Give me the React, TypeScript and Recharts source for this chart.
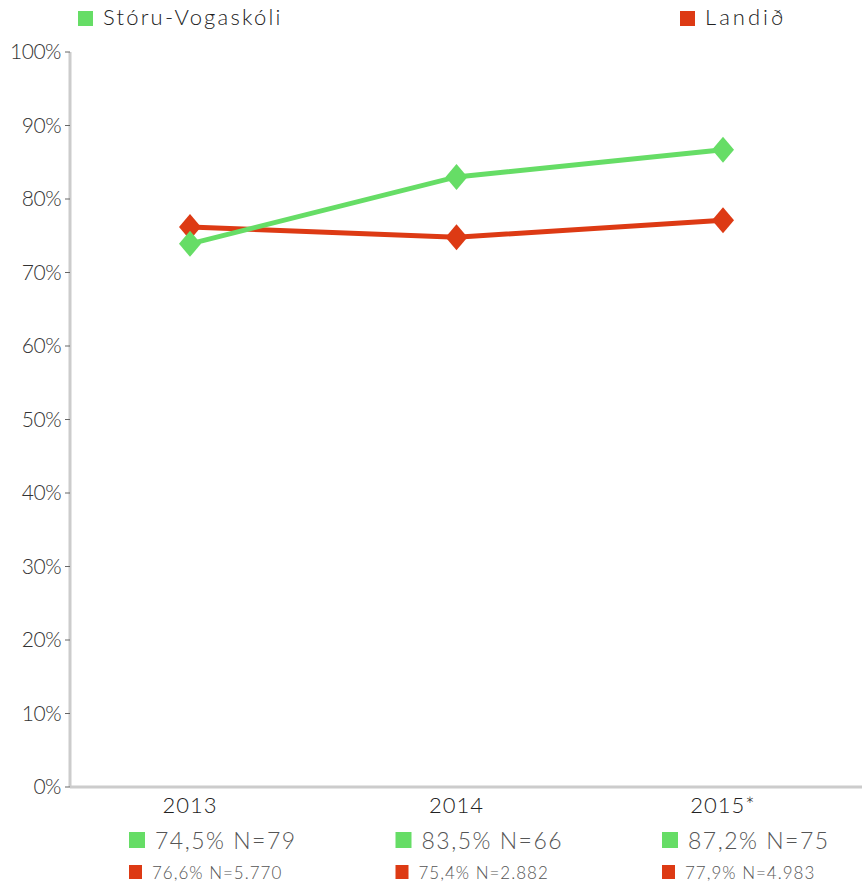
import { LineChart, Line, XAxis, YAxis } from 'recharts';

const years = ['2013', '2014', '2015*'];
// plotted values
const schoolValues = [73.9, 83.0, 86.7];
const countryValues = [76.2, 74.8, 77.1];
// labels printed under each year
const schoolLabels = ['74,5% N=79', '83,5% N=66', '87,2% N=75'];
const countryLabels = ['76,6% N=5.770', '75,4% N=2.882', '77,9% N=4.983'];
const yTicks = [0, 10, 20, 30, 40, 50, 60, 70, 80, 90, 100];

const GREEN = '#66DD66';
const RED = '#DD3A14';
const FONT = 'Lato, "Noto Sans", sans-serif';

const data = years.map((year, i) => ({
  year,
  school: schoolValues[i],
  country: countryValues[i],
}));

function Diamond(props: any) {
  const { cx, cy, fill } = props;
  if (cx == null || cy == null) return null;
  const w = 11;
  const h = 13;
  return (
    <polygon
      points={`${cx},${cy - h} ${cx + w},${cy} ${cx},${cy + h} ${cx - w},${cy}`}
      fill={fill}
    />
  );
}

function YearTick(props: any) {
  const { x, y, payload, index } = props;
  return (
    <g transform={`translate(${x},${y})`} fontFamily={FONT} fontWeight={300}>
      <text x={0} y={26} textAnchor="middle" fontSize={22} fill="#222" letterSpacing={1}>
        {payload.value}
      </text>
      <rect x={-61} y={45} width={16} height={16} fill={GREEN} />
      <text x={-35} y={62} fontSize={23} fill="#555" letterSpacing={1.5}>
        {schoolLabels[index]}
      </text>
      <rect x={-61} y={78} width={13} height={14} fill={RED} />
      <text x={-38} y={92} fontSize={17} fill="#555" letterSpacing={1}>
        {countryLabels[index]}
      </text>
    </g>
  );
}

function TopLegend() {
  return (
    <div style={{ position: 'absolute', left: 0, top: 0, width: 862, height: 40, fontFamily: FONT, fontWeight: 300 }}>
      <div style={{ position: 'absolute', left: 78, top: 11, width: 15, height: 15, background: GREEN }} />
      <div style={{ position: 'absolute', left: 103, top: 3, fontSize: 22, color: '#222', letterSpacing: 2.2 }}>
        Stóru-Vogaskóli
      </div>
      <div style={{ position: 'absolute', left: 680, top: 11, width: 15, height: 15, background: RED }} />
      <div style={{ position: 'absolute', left: 705, top: 3, fontSize: 22, color: '#222', letterSpacing: 3 }}>
        Landið
      </div>
    </div>
  );
}

export default function App() {
  return (
    <div style={{ position: 'absolute', left: 0, top: 0, width: 862, height: 883, background: '#fff' }}>
      <LineChart width={862} height={883} data={data} margin={{ top: 52, right: 0, bottom: 66, left: 0 }}>
        <XAxis
          dataKey="year"
          scale="point"
          height={30}
          padding={{ left: 120, right: 139 }}
          axisLine={{ stroke: '#cccccc', strokeWidth: 3 }}
          tickLine={false}
          tickSize={0}
          tickMargin={0}
          interval={0}
          tick={<YearTick />}
        />
        <YAxis
          width={70}
          domain={[0, 100]}
          ticks={yTicks}
          interval={0}
          tickFormatter={(v: number) => `${v}%`}
          axisLine={{ stroke: '#cccccc', strokeWidth: 3 }}
          tickLine={{ stroke: '#666', strokeWidth: 1 }}
          tickSize={5}
          tickMargin={4}
          tick={{ fontSize: 21, fill: '#333', fontFamily: FONT, fontWeight: 300, letterSpacing: -0.5 }}
        />
        <Line
          dataKey="country"
          stroke={RED}
          strokeWidth={5}
          dot={<Diamond fill={RED} />}
          isAnimationActive={false}
        />
        <Line
          dataKey="school"
          stroke={GREEN}
          strokeWidth={5}
          dot={<Diamond fill={GREEN} />}
          isAnimationActive={false}
        />
      </LineChart>
      <TopLegend />
    </div>
  );
}
